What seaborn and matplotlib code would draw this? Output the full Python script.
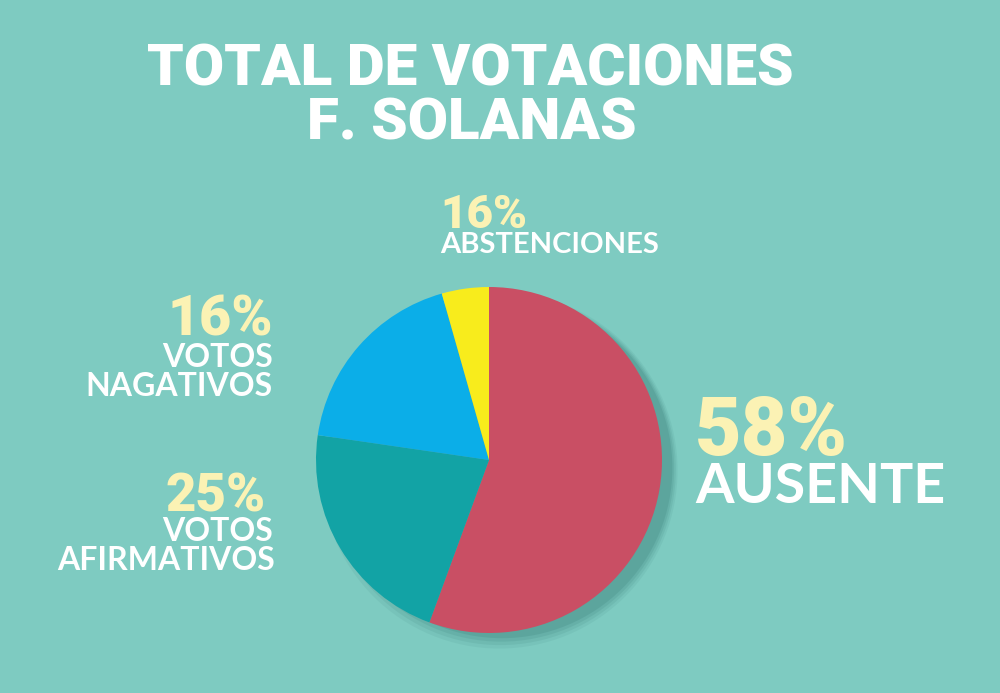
import matplotlib
matplotlib.use("Agg")
import matplotlib.pyplot as plt
import seaborn as sns
from matplotlib.patches import Circle

# slice shares as drawn in the picture (clockwise from 12 o'clock)
categories = ["AUSENTE", "VOTOS AFIRMATIVOS", "VOTOS NAGATIVOS", "ABSTENCIONES"]
slice_shares = [55.6, 21.7, 18.3, 4.4]
# percentages printed next to the pie
label_pcts = ["58%", "25%", "16%", "16%"]

colors = ["#C94F64", "#12A3A5", "#0BAEE8", "#F8EC1C"]
bg = "#7ECBC1"
pct_color = "#FBF2B4"

sns.set_theme(style="white")
plt.rcParams["font.family"] = ["Lato", "DejaVu Sans"]
heavy = ["Roboto", "Lato", "DejaVu Sans"]

W, H = 1000, 693
fig = plt.figure(figsize=(10, 6.93), dpi=100, facecolor=bg)


def fx(x):
    return x / W


def fy(y):
    return 1 - y / H


# title
fig.text(fx(470), fy(85), "TOTAL DE VOTACIONES", ha="center", va="baseline",
         fontsize=42, fontweight="black", family=heavy, color="white")
fig.text(fx(472), fy(140), "F. SOLANAS", ha="center", va="baseline",
         fontsize=42, fontweight="black", family=heavy, color="white")

# pie
cx, cy, r = 489, 460, 173
ax = fig.add_axes([fx(cx - r), fy(cy + r), 2 * r / W, 2 * r / H])
ax.set_facecolor(bg)
for k, a in enumerate([0.08, 0.10, 0.12, 0.16]):
    ax.add_patch(Circle((0.06 + 0.005 * k, -0.06 + 0.005 * k), 1.03 - 0.015 * k,
                        color="#2A6F69", alpha=a, lw=0, zorder=0, clip_on=False))
wedges, _ = ax.pie(slice_shares, colors=colors, startangle=90, counterclock=False,
                   radius=1, wedgeprops=dict(linewidth=0))
for w in wedges:
    w.set_clip_on(False)
ax.set_xlim(-1, 1)
ax.set_ylim(-1, 1)
ax.set_aspect("equal")
ax.axis("off")

lab_kw = dict(fontsize=23, fontweight="bold", color="white", va="baseline")
pct_kw = dict(fontweight="black", family=heavy, color=pct_color, va="baseline")

# AUSENTE (right)
fig.text(fx(695), fy(455), label_pcts[0], fontsize=58, ha="left", **pct_kw)
fig.text(fx(695), fy(503), categories[0], ha="left",
         **{**lab_kw, "fontsize": 40})

# AFIRMATIVOS (left bottom)
fig.text(fx(266), fy(512), label_pcts[1], fontsize=38, ha="right", **pct_kw)
fig.text(fx(273), fy(541), "VOTOS", ha="right", **lab_kw)
fig.text(fx(275), fy(570), "AFIRMATIVOS", ha="right", **lab_kw)

# NAGATIVOS (left top)
fig.text(fx(273), fy(335), label_pcts[2], fontsize=40, ha="right", **pct_kw)
fig.text(fx(273), fy(367), "VOTOS", ha="right", **lab_kw)
fig.text(fx(273), fy(396), "NAGATIVOS", ha="right", **lab_kw)

# ABSTENCIONES (top)
fig.text(fx(440), fy(228), label_pcts[3], fontsize=33, ha="left", **pct_kw)
fig.text(fx(440), fy(253), categories[3], ha="left",
         **{**lab_kw, "fontsize": 21})

fig.savefig("out.png", dpi=100, facecolor=bg)
